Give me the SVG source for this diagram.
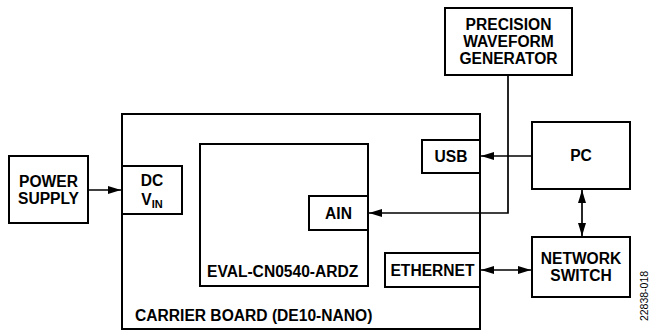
<svg xmlns="http://www.w3.org/2000/svg" width="652" height="333" viewBox="0 0 652 333">
<style>
.box{fill:#fff;stroke:#000;stroke-width:2}
.t{font-family:"Liberation Sans",Arial,sans-serif;font-weight:bold;font-size:15.6px;fill:#000;text-anchor:middle}
.w{stroke:#000;stroke-width:1.7;fill:none}
</style>
<defs>
<marker id="ah" viewBox="0 0 13 8" refX="13" refY="4" markerWidth="13" markerHeight="8" markerUnits="userSpaceOnUse" orient="auto-start-reverse">
<path d="M0,0L13,4L0,8Z" fill="#000"/>
</marker>
</defs>
<rect width="652" height="333" fill="#fff"/>
<g id="carrier">
<rect class="box" x="122" y="114" width="358" height="215"/>
<text class="t" x="135" y="321" style="text-anchor:start">CARRIER BOARD (DE10-NANO)</text>
</g>
<g id="eval">
<rect class="box" x="200" y="144" width="168" height="142"/>
<text class="t" x="207" y="277" style="text-anchor:start">EVAL-CN0540-ARDZ</text>
</g>
<g id="ain">
<rect class="box" x="309" y="196" width="59" height="34"/>
<text class="t" x="338.5" y="219">AIN</text>
</g>
<g id="dcvin">
<rect class="box" x="122" y="166" width="60" height="48"/>
<text class="t" x="152" y="186">DC</text>
<text class="t" x="152" y="205">V<tspan font-size="11" dy="3">IN</tspan></text>
</g>
<g id="usb">
<rect class="box" x="422" y="140" width="58" height="33"/>
<text class="t" x="451" y="162">USB</text>
</g>
<g id="ethernet">
<rect class="box" x="385" y="253" width="95" height="34"/>
<text class="t" x="432.5" y="276">ETHERNET</text>
</g>
<g id="power">
<rect class="box" x="9" y="156" width="79" height="67"/>
<text class="t" x="48.5" y="187">POWER</text>
<text class="t" x="48.5" y="204">SUPPLY</text>
</g>
<g id="generator">
<rect class="box" x="445" y="8" width="127" height="67"/>
<text class="t" x="508.5" y="30">PRECISION</text>
<text class="t" x="508.5" y="47">WAVEFORM</text>
<text class="t" x="508.5" y="64">GENERATOR</text>
</g>
<g id="pc">
<rect class="box" x="532" y="122" width="98" height="67"/>
<text class="t" x="581" y="161">PC</text>
</g>
<g id="switch">
<rect class="box" x="532" y="237" width="98" height="60"/>
<text class="t" x="581" y="264">NETWORK</text>
<text class="t" x="581" y="281">SWITCH</text>
</g>
<g id="connectors">
<line class="w" x1="88" y1="190" x2="121" y2="190" marker-end="url(#ah)"/>
<line class="w" x1="532" y1="156" x2="481" y2="156" marker-end="url(#ah)"/>
<polyline class="w" points="508,75 508,213 369,213" marker-end="url(#ah)"/>
<line class="w" x1="582" y1="190" x2="582" y2="236" marker-start="url(#ah)" marker-end="url(#ah)"/>
<line class="w" x1="481" y1="270" x2="531" y2="270" marker-start="url(#ah)" marker-end="url(#ah)"/>
</g>
<text x="648" y="296" transform="rotate(-90 648 296)" font-family="'Liberation Sans',Arial,sans-serif" font-size="10.5" text-anchor="middle" fill="#000">22838-018</text>
</svg>
